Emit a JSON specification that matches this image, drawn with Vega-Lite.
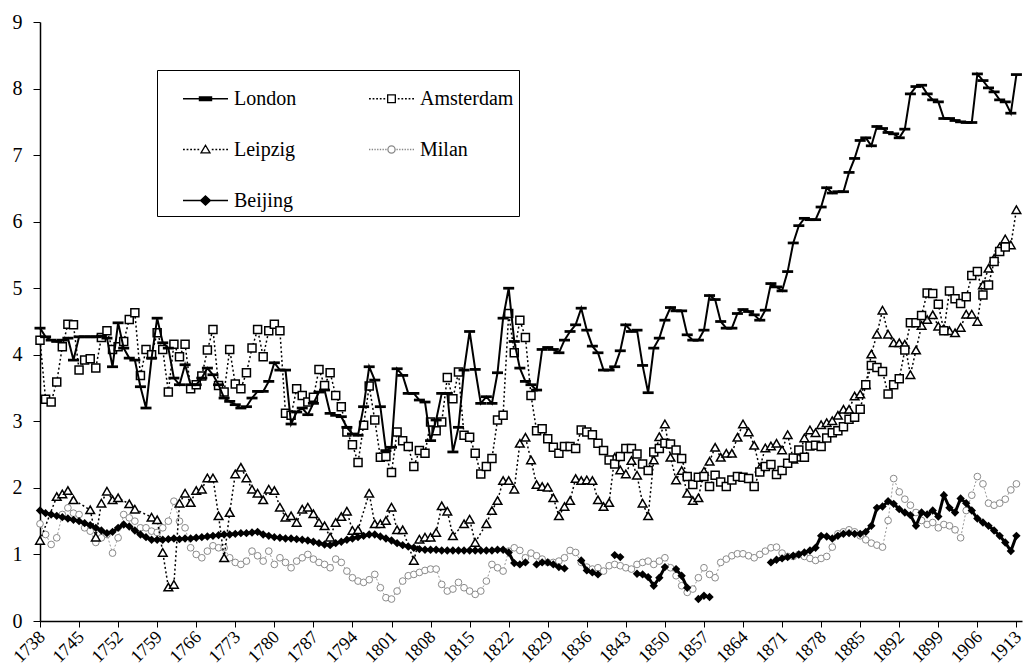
{
"$schema":"https://vega.github.io/schema/vega-lite/v6.json",
"width":982,"height":599,
"autosize":{"type":"none"},
"padding":{"left":40,"top":22,"right":4,"bottom":50},
"background":"white",
"config":{"view":{"stroke":null},"font":"Liberation Serif"},
"datasets":{
"london":[{"year":1738,"v":4.40},{"year":1739,"v":4.27},{"year":1740,"v":4.22},{"year":1741,"v":4.20},{"year":1742,"v":4.22},{"year":1743,"v":4.25},{"year":1744,"v":3.92},{"year":1745,"v":4.27},{"year":1746,"v":4.27},{"year":1747,"v":4.27},{"year":1748,"v":4.27},{"year":1749,"v":4.28},{"year":1750,"v":4.25},{"year":1751,"v":3.82},{"year":1752,"v":4.48},{"year":1753,"v":4.10},{"year":1754,"v":3.95},{"year":1755,"v":3.92},{"year":1756,"v":3.52},{"year":1757,"v":3.20},{"year":1758,"v":3.95},{"year":1759,"v":4.55},{"year":1760,"v":4.18},{"year":1761,"v":4.10},{"year":1762,"v":3.65},{"year":1763,"v":3.55},{"year":1764,"v":3.85},{"year":1765,"v":3.55},{"year":1766,"v":3.55},{"year":1767,"v":3.65},{"year":1768,"v":3.80},{"year":1769,"v":3.70},{"year":1770,"v":3.55},{"year":1771,"v":3.35},{"year":1772,"v":3.30},{"year":1773,"v":3.25},{"year":1774,"v":3.20},{"year":1775,"v":3.22},{"year":1776,"v":3.35},{"year":1777,"v":3.45},{"year":1778,"v":3.45},{"year":1779,"v":3.60},{"year":1780,"v":3.88},{"year":1781,"v":3.77},{"year":1782,"v":3.77},{"year":1783,"v":2.96},{"year":1784,"v":3.14},{"year":1785,"v":3.20},{"year":1786,"v":3.10},{"year":1787,"v":3.27},{"year":1788,"v":3.44},{"year":1789,"v":3.47},{"year":1790,"v":3.12},{"year":1791,"v":3.09},{"year":1792,"v":3.07},{"year":1793,"v":2.91},{"year":1794,"v":2.81},{"year":1795,"v":2.79},{"year":1796,"v":3.22},{"year":1797,"v":3.82},{"year":1798,"v":3.62},{"year":1799,"v":3.22},{"year":1800,"v":2.56},{"year":1801,"v":2.61},{"year":1802,"v":3.79},{"year":1803,"v":3.69},{"year":1804,"v":3.42},{"year":1805,"v":3.42},{"year":1806,"v":3.32},{"year":1807,"v":3.29},{"year":1808,"v":2.71},{"year":1809,"v":3.02},{"year":1810,"v":3.42},{"year":1811,"v":3.42},{"year":1812,"v":2.54},{"year":1813,"v":2.91},{"year":1814,"v":3.77},{"year":1815,"v":4.35},{"year":1816,"v":3.78},{"year":1817,"v":3.27},{"year":1818,"v":3.37},{"year":1819,"v":3.27},{"year":1820,"v":3.73},{"year":1821,"v":4.55},{"year":1822,"v":5.00},{"year":1823,"v":4.20},{"year":1824,"v":3.80},{"year":1825,"v":3.60},{"year":1826,"v":3.55},{"year":1827,"v":3.47},{"year":1828,"v":4.08},{"year":1829,"v":4.11},{"year":1830,"v":4.08},{"year":1831,"v":4.03},{"year":1832,"v":4.22},{"year":1833,"v":4.35},{"year":1834,"v":4.45},{"year":1835,"v":4.70},{"year":1836,"v":4.37},{"year":1837,"v":4.13},{"year":1838,"v":4.03},{"year":1839,"v":3.77},{"year":1840,"v":3.77},{"year":1841,"v":3.82},{"year":1842,"v":4.06},{"year":1843,"v":4.45},{"year":1844,"v":4.35},{"year":1845,"v":4.37},{"year":1846,"v":3.84},{"year":1847,"v":3.43},{"year":1848,"v":4.10},{"year":1849,"v":4.25},{"year":1850,"v":4.52},{"year":1851,"v":4.71},{"year":1852,"v":4.66},{"year":1853,"v":4.66},{"year":1854,"v":4.30},{"year":1855,"v":4.22},{"year":1856,"v":4.22},{"year":1857,"v":4.37},{"year":1858,"v":4.89},{"year":1859,"v":4.83},{"year":1860,"v":4.50},{"year":1861,"v":4.40},{"year":1862,"v":4.40},{"year":1863,"v":4.62},{"year":1864,"v":4.68},{"year":1865,"v":4.65},{"year":1866,"v":4.60},{"year":1867,"v":4.52},{"year":1868,"v":4.67},{"year":1869,"v":5.07},{"year":1870,"v":5.02},{"year":1871,"v":4.96},{"year":1872,"v":5.25},{"year":1873,"v":5.68},{"year":1874,"v":5.94},{"year":1875,"v":6.05},{"year":1876,"v":6.03},{"year":1877,"v":6.03},{"year":1878,"v":6.22},{"year":1879,"v":6.51},{"year":1880,"v":6.43},{"year":1881,"v":6.45},{"year":1882,"v":6.45},{"year":1883,"v":6.74},{"year":1884,"v":6.95},{"year":1885,"v":7.22},{"year":1886,"v":7.26},{"year":1887,"v":7.14},{"year":1888,"v":7.43},{"year":1889,"v":7.40},{"year":1890,"v":7.34},{"year":1891,"v":7.32},{"year":1892,"v":7.26},{"year":1893,"v":7.39},{"year":1894,"v":7.92},{"year":1895,"v":8.03},{"year":1896,"v":8.05},{"year":1897,"v":7.92},{"year":1898,"v":7.83},{"year":1899,"v":7.80},{"year":1900,"v":7.55},{"year":1901,"v":7.55},{"year":1902,"v":7.52},{"year":1903,"v":7.50},{"year":1904,"v":7.49},{"year":1905,"v":7.49},{"year":1906,"v":8.22},{"year":1907,"v":8.12},{"year":1908,"v":8.01},{"year":1909,"v":7.95},{"year":1910,"v":7.83},{"year":1911,"v":7.80},{"year":1912,"v":7.63},{"year":1913,"v":8.21}],
"amsterdam":[{"year":1738,"v":4.22},{"year":1739,"v":3.33},{"year":1740,"v":3.29},{"year":1741,"v":3.59},{"year":1742,"v":4.12},{"year":1743,"v":4.46},{"year":1744,"v":4.45},{"year":1745,"v":3.77},{"year":1746,"v":3.92},{"year":1747,"v":3.94},{"year":1748,"v":3.80},{"year":1749,"v":4.26},{"year":1750,"v":4.36},{"year":1751,"v":4.08},{"year":1752,"v":4.12},{"year":1753,"v":4.20},{"year":1754,"v":4.53},{"year":1755,"v":4.63},{"year":1756,"v":3.69},{"year":1757,"v":4.08},{"year":1758,"v":4.00},{"year":1759,"v":4.33},{"year":1760,"v":4.08},{"year":1761,"v":3.44},{"year":1762,"v":4.16},{"year":1763,"v":3.97},{"year":1764,"v":4.16},{"year":1765,"v":3.49},{"year":1766,"v":3.55},{"year":1767,"v":3.68},{"year":1768,"v":4.07},{"year":1769,"v":4.38},{"year":1770,"v":3.54},{"year":1771,"v":3.44},{"year":1772,"v":4.08},{"year":1773,"v":3.56},{"year":1774,"v":3.49},{"year":1775,"v":3.73},{"year":1776,"v":4.10},{"year":1777,"v":4.38},{"year":1778,"v":3.97},{"year":1779,"v":4.36},{"year":1780,"v":4.46},{"year":1781,"v":4.36},{"year":1782,"v":3.12},{"year":1783,"v":3.09},{"year":1784,"v":3.49},{"year":1785,"v":3.39},{"year":1786,"v":3.29},{"year":1787,"v":3.36},{"year":1788,"v":3.78},{"year":1789,"v":3.54},{"year":1790,"v":3.73},{"year":1791,"v":3.39},{"year":1792,"v":3.22},{"year":1793,"v":2.84},{"year":1794,"v":2.65},{"year":1795,"v":2.38},{"year":1796,"v":2.94},{"year":1797,"v":3.53},{"year":1798,"v":3.02},{"year":1799,"v":2.46},{"year":1800,"v":2.47},{"year":1801,"v":2.23},{"year":1802,"v":2.84},{"year":1803,"v":2.71},{"year":1804,"v":2.62},{"year":1805,"v":2.32},{"year":1806,"v":2.56},{"year":1807,"v":2.52},{"year":1808,"v":2.99},{"year":1809,"v":2.86},{"year":1810,"v":2.99},{"year":1811,"v":3.66},{"year":1812,"v":3.34},{"year":1813,"v":3.74},{"year":1814,"v":2.79},{"year":1815,"v":2.76},{"year":1816,"v":2.52},{"year":1817,"v":2.21},{"year":1818,"v":2.32},{"year":1819,"v":2.44},{"year":1820,"v":3.02},{"year":1821,"v":3.09},{"year":1822,"v":4.62},{"year":1823,"v":4.03},{"year":1824,"v":4.52},{"year":1825,"v":4.26},{"year":1826,"v":3.39},{"year":1827,"v":2.86},{"year":1828,"v":2.89},{"year":1829,"v":2.74},{"year":1830,"v":2.61},{"year":1831,"v":2.52},{"year":1832,"v":2.62},{"year":1833,"v":2.62},{"year":1834,"v":2.59},{"year":1835,"v":2.87},{"year":1836,"v":2.84},{"year":1837,"v":2.80},{"year":1838,"v":2.67},{"year":1839,"v":2.56},{"year":1840,"v":2.42},{"year":1841,"v":2.36},{"year":1842,"v":2.47},{"year":1843,"v":2.59},{"year":1844,"v":2.59},{"year":1845,"v":2.51},{"year":1846,"v":2.36},{"year":1847,"v":2.26},{"year":1848,"v":2.54},{"year":1849,"v":2.59},{"year":1850,"v":2.67},{"year":1851,"v":2.66},{"year":1852,"v":2.57},{"year":1853,"v":2.44},{"year":1854,"v":2.17},{"year":1855,"v":2.05},{"year":1856,"v":2.16},{"year":1857,"v":2.17},{"year":1858,"v":2.02},{"year":1859,"v":2.19},{"year":1860,"v":2.09},{"year":1861,"v":2.02},{"year":1862,"v":2.12},{"year":1863,"v":2.17},{"year":1864,"v":2.16},{"year":1865,"v":2.14},{"year":1866,"v":2.02},{"year":1867,"v":2.24},{"year":1868,"v":2.32},{"year":1869,"v":2.35},{"year":1870,"v":2.20},{"year":1871,"v":2.26},{"year":1872,"v":2.37},{"year":1873,"v":2.45},{"year":1874,"v":2.57},{"year":1875,"v":2.46},{"year":1876,"v":2.63},{"year":1877,"v":2.64},{"year":1878,"v":2.62},{"year":1879,"v":2.75},{"year":1880,"v":2.83},{"year":1881,"v":2.86},{"year":1882,"v":2.92},{"year":1883,"v":3.03},{"year":1884,"v":3.06},{"year":1885,"v":3.18},{"year":1886,"v":3.55},{"year":1887,"v":3.84},{"year":1888,"v":3.81},{"year":1889,"v":3.75},{"year":1890,"v":3.41},{"year":1891,"v":3.55},{"year":1892,"v":3.64},{"year":1893,"v":4.07},{"year":1894,"v":4.48},{"year":1895,"v":4.48},{"year":1896,"v":4.59},{"year":1897,"v":4.93},{"year":1898,"v":4.92},{"year":1899,"v":4.76},{"year":1900,"v":4.36},{"year":1901,"v":4.96},{"year":1902,"v":4.84},{"year":1903,"v":4.77},{"year":1904,"v":4.87},{"year":1905,"v":5.19},{"year":1906,"v":5.25},{"year":1907,"v":4.90},{"year":1908,"v":5.05},{"year":1909,"v":5.40},{"year":1910,"v":5.55},{"year":1911,"v":5.62}],
"leipzig":[{"year":1738,"v":1.21},{"year":1741,"v":1.87},{"year":1742,"v":1.91},{"year":1743,"v":1.96},{"year":1744,"v":1.82},{"year":1747,"v":1.67},{"year":1748,"v":1.26},{"year":1749,"v":1.77},{"year":1750,"v":1.95},{"year":1751,"v":1.82},{"year":1752,"v":1.85},{"year":1754,"v":1.76},{"year":1755,"v":1.68},{"year":1758,"v":1.56},{"year":1759,"v":1.52},{"year":1760,"v":1.03},{"year":1761,"v":0.51},{"year":1762,"v":0.55},{"year":1763,"v":1.77},{"year":1764,"v":1.92},{"year":1765,"v":1.78},{"year":1766,"v":1.96},{"year":1767,"v":1.98},{"year":1768,"v":2.15},{"year":1769,"v":2.15},{"year":1770,"v":1.58},{"year":1771,"v":0.95},{"year":1772,"v":1.63},{"year":1773,"v":2.21},{"year":1774,"v":2.31},{"year":1775,"v":2.15},{"year":1776,"v":1.98},{"year":1777,"v":1.92},{"year":1778,"v":1.82},{"year":1779,"v":1.98},{"year":1780,"v":1.96},{"year":1781,"v":1.71},{"year":1782,"v":1.56},{"year":1783,"v":1.58},{"year":1784,"v":1.48},{"year":1785,"v":1.68},{"year":1786,"v":1.71},{"year":1787,"v":1.61},{"year":1788,"v":1.48},{"year":1789,"v":1.43},{"year":1790,"v":1.26},{"year":1791,"v":1.48},{"year":1792,"v":1.57},{"year":1793,"v":1.65},{"year":1794,"v":1.36},{"year":1795,"v":1.37},{"year":1797,"v":1.92},{"year":1798,"v":1.46},{"year":1799,"v":1.46},{"year":1800,"v":1.51},{"year":1801,"v":1.71},{"year":1802,"v":1.37},{"year":1803,"v":1.37},{"year":1805,"v":0.91},{"year":1806,"v":1.23},{"year":1807,"v":1.26},{"year":1808,"v":1.26},{"year":1809,"v":1.33},{"year":1810,"v":1.73},{"year":1811,"v":1.65},{"year":1812,"v":1.28},{"year":1814,"v":1.46},{"year":1815,"v":1.53},{"year":1816,"v":1.18},{"year":1818,"v":1.46},{"year":1819,"v":1.66},{"year":1820,"v":1.81},{"year":1821,"v":2.11},{"year":1822,"v":2.11},{"year":1823,"v":1.98},{"year":1824,"v":2.67},{"year":1825,"v":2.76},{"year":1826,"v":2.42},{"year":1827,"v":2.05},{"year":1828,"v":2.02},{"year":1829,"v":2.01},{"year":1830,"v":1.85},{"year":1831,"v":1.58},{"year":1832,"v":1.72},{"year":1833,"v":1.81},{"year":1834,"v":2.14},{"year":1835,"v":2.11},{"year":1836,"v":2.12},{"year":1837,"v":2.11},{"year":1838,"v":1.82},{"year":1839,"v":1.72},{"year":1840,"v":1.78},{"year":1841,"v":2.46},{"year":1842,"v":2.27},{"year":1843,"v":2.21},{"year":1844,"v":2.41},{"year":1845,"v":2.19},{"year":1846,"v":1.77},{"year":1847,"v":1.58},{"year":1848,"v":2.42},{"year":1849,"v":2.77},{"year":1850,"v":2.96},{"year":1851,"v":2.46},{"year":1852,"v":2.12},{"year":1853,"v":2.26},{"year":1854,"v":1.92},{"year":1855,"v":1.81},{"year":1856,"v":1.85},{"year":1857,"v":2.25},{"year":1858,"v":2.40},{"year":1859,"v":2.61},{"year":1860,"v":2.46},{"year":1861,"v":2.52},{"year":1862,"v":2.52},{"year":1863,"v":2.76},{"year":1864,"v":2.96},{"year":1865,"v":2.84},{"year":1866,"v":2.64},{"year":1867,"v":2.30},{"year":1868,"v":2.60},{"year":1869,"v":2.63},{"year":1870,"v":2.67},{"year":1871,"v":2.57},{"year":1872,"v":2.80},{"year":1873,"v":2.43},{"year":1874,"v":2.46},{"year":1875,"v":2.75},{"year":1876,"v":2.87},{"year":1877,"v":2.83},{"year":1878,"v":2.95},{"year":1879,"v":2.98},{"year":1880,"v":3.01},{"year":1881,"v":3.09},{"year":1882,"v":3.18},{"year":1883,"v":3.18},{"year":1884,"v":3.38},{"year":1885,"v":3.41},{"year":1886,"v":3.55},{"year":1887,"v":4.01},{"year":1888,"v":4.31},{"year":1889,"v":4.67},{"year":1890,"v":4.31},{"year":1891,"v":4.18},{"year":1892,"v":4.18},{"year":1893,"v":4.16},{"year":1894,"v":3.70},{"year":1895,"v":4.07},{"year":1896,"v":4.44},{"year":1897,"v":4.53},{"year":1898,"v":4.60},{"year":1899,"v":4.43},{"year":1900,"v":4.39},{"year":1901,"v":4.36},{"year":1902,"v":4.33},{"year":1903,"v":4.41},{"year":1904,"v":4.61},{"year":1905,"v":4.61},{"year":1906,"v":4.50},{"year":1907,"v":5.05},{"year":1908,"v":5.30},{"year":1909,"v":5.45},{"year":1910,"v":5.62},{"year":1911,"v":5.74},{"year":1912,"v":5.65},{"year":1913,"v":6.18}],
"milan":[{"year":1738,"v":1.46},{"year":1739,"v":1.30},{"year":1740,"v":1.15},{"year":1741,"v":1.25},{"year":1742,"v":1.60},{"year":1743,"v":1.70},{"year":1744,"v":1.62},{"year":1745,"v":1.60},{"year":1746,"v":1.40},{"year":1747,"v":1.35},{"year":1748,"v":1.18},{"year":1749,"v":1.25},{"year":1750,"v":1.30},{"year":1751,"v":1.02},{"year":1752,"v":1.25},{"year":1753,"v":1.60},{"year":1754,"v":1.55},{"year":1755,"v":1.50},{"year":1756,"v":1.40},{"year":1757,"v":1.40},{"year":1758,"v":1.35},{"year":1759,"v":1.33},{"year":1760,"v":1.40},{"year":1761,"v":1.50},{"year":1762,"v":1.80},{"year":1763,"v":1.50},{"year":1764,"v":1.40},{"year":1765,"v":1.10},{"year":1766,"v":1.00},{"year":1767,"v":0.95},{"year":1768,"v":1.05},{"year":1769,"v":1.13},{"year":1770,"v":1.10},{"year":1771,"v":1.10},{"year":1772,"v":0.95},{"year":1773,"v":0.88},{"year":1774,"v":0.85},{"year":1775,"v":0.90},{"year":1776,"v":1.05},{"year":1777,"v":0.98},{"year":1778,"v":0.90},{"year":1779,"v":1.05},{"year":1780,"v":0.85},{"year":1781,"v":0.95},{"year":1782,"v":0.88},{"year":1783,"v":0.80},{"year":1784,"v":0.90},{"year":1785,"v":0.95},{"year":1786,"v":1.00},{"year":1787,"v":0.93},{"year":1788,"v":0.88},{"year":1789,"v":0.85},{"year":1790,"v":0.80},{"year":1791,"v":0.93},{"year":1792,"v":0.88},{"year":1793,"v":0.75},{"year":1794,"v":0.65},{"year":1795,"v":0.60},{"year":1796,"v":0.58},{"year":1797,"v":0.62},{"year":1798,"v":0.70},{"year":1799,"v":0.50},{"year":1800,"v":0.35},{"year":1801,"v":0.33},{"year":1802,"v":0.45},{"year":1803,"v":0.60},{"year":1804,"v":0.68},{"year":1805,"v":0.70},{"year":1806,"v":0.73},{"year":1807,"v":0.76},{"year":1808,"v":0.78},{"year":1809,"v":0.78},{"year":1810,"v":0.55},{"year":1811,"v":0.45},{"year":1812,"v":0.48},{"year":1813,"v":0.58},{"year":1814,"v":0.50},{"year":1815,"v":0.45},{"year":1816,"v":0.40},{"year":1817,"v":0.45},{"year":1818,"v":0.60},{"year":1819,"v":0.85},{"year":1820,"v":0.80},{"year":1821,"v":0.75},{"year":1822,"v":1.05},{"year":1823,"v":1.10},{"year":1824,"v":1.06},{"year":1825,"v":0.95},{"year":1826,"v":1.02},{"year":1827,"v":0.98},{"year":1828,"v":0.93},{"year":1829,"v":0.88},{"year":1830,"v":0.88},{"year":1831,"v":0.90},{"year":1832,"v":0.95},{"year":1833,"v":1.06},{"year":1834,"v":1.03},{"year":1835,"v":0.88},{"year":1836,"v":0.81},{"year":1837,"v":0.78},{"year":1838,"v":0.80},{"year":1839,"v":0.75},{"year":1840,"v":0.83},{"year":1841,"v":0.85},{"year":1842,"v":0.83},{"year":1843,"v":0.80},{"year":1844,"v":0.78},{"year":1845,"v":0.85},{"year":1846,"v":0.88},{"year":1847,"v":0.90},{"year":1848,"v":0.85},{"year":1849,"v":0.90},{"year":1850,"v":0.95},{"year":1851,"v":0.80},{"year":1852,"v":0.68},{"year":1853,"v":0.53},{"year":1854,"v":0.43},{"year":1855,"v":0.48},{"year":1856,"v":0.65},{"year":1857,"v":0.80},{"year":1858,"v":0.70},{"year":1859,"v":0.65},{"year":1860,"v":0.88},{"year":1861,"v":0.93},{"year":1862,"v":0.98},{"year":1863,"v":1.01},{"year":1864,"v":1.01},{"year":1865,"v":0.98},{"year":1866,"v":0.95},{"year":1867,"v":1.00},{"year":1868,"v":1.05},{"year":1869,"v":1.10},{"year":1870,"v":1.11},{"year":1871,"v":1.02},{"year":1872,"v":0.97},{"year":1873,"v":0.97},{"year":1874,"v":1.00},{"year":1875,"v":0.97},{"year":1876,"v":0.94},{"year":1877,"v":0.91},{"year":1878,"v":0.94},{"year":1879,"v":0.97},{"year":1880,"v":1.11},{"year":1881,"v":1.31},{"year":1882,"v":1.34},{"year":1883,"v":1.37},{"year":1884,"v":1.34},{"year":1885,"v":1.28},{"year":1886,"v":1.22},{"year":1887,"v":1.17},{"year":1888,"v":1.14},{"year":1889,"v":1.11},{"year":1890,"v":1.51},{"year":1891,"v":2.14},{"year":1892,"v":1.94},{"year":1893,"v":1.83},{"year":1894,"v":1.74},{"year":1895,"v":1.63},{"year":1896,"v":1.51},{"year":1897,"v":1.45},{"year":1898,"v":1.48},{"year":1899,"v":1.40},{"year":1900,"v":1.45},{"year":1901,"v":1.43},{"year":1902,"v":1.37},{"year":1903,"v":1.25},{"year":1904,"v":1.66},{"year":1905,"v":1.89},{"year":1906,"v":2.17},{"year":1907,"v":2.06},{"year":1908,"v":1.77},{"year":1909,"v":1.74},{"year":1910,"v":1.77},{"year":1911,"v":1.83},{"year":1912,"v":1.97},{"year":1913,"v":2.06}],
"beijing":[{"year":1738,"v":1.66},{"year":1739,"v":1.62},{"year":1740,"v":1.60},{"year":1741,"v":1.58},{"year":1742,"v":1.56},{"year":1743,"v":1.54},{"year":1744,"v":1.52},{"year":1745,"v":1.50},{"year":1746,"v":1.47},{"year":1747,"v":1.44},{"year":1748,"v":1.40},{"year":1749,"v":1.36},{"year":1750,"v":1.32},{"year":1751,"v":1.34},{"year":1752,"v":1.40},{"year":1753,"v":1.45},{"year":1754,"v":1.42},{"year":1755,"v":1.36},{"year":1756,"v":1.30},{"year":1757,"v":1.26},{"year":1758,"v":1.22},{"year":1759,"v":1.22},{"year":1760,"v":1.22},{"year":1761,"v":1.23},{"year":1762,"v":1.24},{"year":1763,"v":1.23},{"year":1764,"v":1.24},{"year":1765,"v":1.24},{"year":1766,"v":1.25},{"year":1767,"v":1.26},{"year":1768,"v":1.27},{"year":1769,"v":1.28},{"year":1770,"v":1.29},{"year":1771,"v":1.30},{"year":1772,"v":1.30},{"year":1773,"v":1.31},{"year":1774,"v":1.32},{"year":1775,"v":1.32},{"year":1776,"v":1.33},{"year":1777,"v":1.34},{"year":1778,"v":1.30},{"year":1779,"v":1.28},{"year":1780,"v":1.26},{"year":1781,"v":1.25},{"year":1782,"v":1.24},{"year":1783,"v":1.24},{"year":1784,"v":1.23},{"year":1785,"v":1.22},{"year":1786,"v":1.21},{"year":1787,"v":1.19},{"year":1788,"v":1.17},{"year":1789,"v":1.15},{"year":1790,"v":1.14},{"year":1791,"v":1.17},{"year":1792,"v":1.19},{"year":1793,"v":1.22},{"year":1794,"v":1.24},{"year":1795,"v":1.26},{"year":1796,"v":1.28},{"year":1797,"v":1.30},{"year":1798,"v":1.30},{"year":1799,"v":1.27},{"year":1800,"v":1.24},{"year":1801,"v":1.21},{"year":1802,"v":1.17},{"year":1803,"v":1.14},{"year":1804,"v":1.12},{"year":1805,"v":1.10},{"year":1806,"v":1.08},{"year":1807,"v":1.07},{"year":1808,"v":1.07},{"year":1809,"v":1.07},{"year":1810,"v":1.06},{"year":1811,"v":1.06},{"year":1812,"v":1.06},{"year":1813,"v":1.06},{"year":1814,"v":1.06},{"year":1815,"v":1.06},{"year":1816,"v":1.06},{"year":1817,"v":1.06},{"year":1818,"v":1.06},{"year":1819,"v":1.06},{"year":1820,"v":1.07},{"year":1821,"v":1.07},{"year":1822,"v":1.03},{"year":1823,"v":0.87},{"year":1824,"v":0.85},{"year":1825,"v":0.88},{"year":1826,"v":null},{"year":1827,"v":0.85},{"year":1828,"v":0.88},{"year":1829,"v":0.88},{"year":1830,"v":0.85},{"year":1831,"v":0.81},{"year":1832,"v":0.79},{"year":1833,"v":null},{"year":1835,"v":0.91},{"year":1836,"v":0.76},{"year":1837,"v":0.73},{"year":1838,"v":0.70},{"year":1839,"v":null},{"year":1841,"v":0.99},{"year":1842,"v":0.96},{"year":1843,"v":null},{"year":1845,"v":0.71},{"year":1846,"v":0.70},{"year":1847,"v":0.66},{"year":1848,"v":0.53},{"year":1849,"v":0.65},{"year":1850,"v":0.81},{"year":1851,"v":null},{"year":1852,"v":0.78},{"year":1853,"v":0.68},{"year":1854,"v":0.50},{"year":1855,"v":null},{"year":1856,"v":0.33},{"year":1857,"v":0.38},{"year":1858,"v":0.36},{"year":1859,"v":null},{"year":1869,"v":0.88},{"year":1870,"v":0.92},{"year":1871,"v":0.94},{"year":1872,"v":0.96},{"year":1873,"v":0.98},{"year":1874,"v":1.00},{"year":1875,"v":1.03},{"year":1876,"v":1.06},{"year":1877,"v":1.10},{"year":1878,"v":1.28},{"year":1879,"v":1.27},{"year":1880,"v":1.24},{"year":1881,"v":1.28},{"year":1882,"v":1.31},{"year":1883,"v":1.32},{"year":1884,"v":1.31},{"year":1885,"v":1.31},{"year":1886,"v":1.34},{"year":1887,"v":1.43},{"year":1888,"v":1.70},{"year":1889,"v":1.72},{"year":1890,"v":1.80},{"year":1891,"v":1.76},{"year":1892,"v":1.68},{"year":1893,"v":1.63},{"year":1894,"v":1.59},{"year":1895,"v":1.43},{"year":1896,"v":1.63},{"year":1897,"v":1.60},{"year":1898,"v":1.66},{"year":1899,"v":1.57},{"year":1900,"v":1.89},{"year":1901,"v":1.70},{"year":1902,"v":1.63},{"year":1903,"v":1.84},{"year":1904,"v":1.77},{"year":1905,"v":1.66},{"year":1906,"v":1.54},{"year":1907,"v":1.48},{"year":1908,"v":1.43},{"year":1909,"v":1.36},{"year":1910,"v":1.28},{"year":1911,"v":1.18},{"year":1912,"v":1.05},{"year":1913,"v":1.28}],
"legend":[{"city":"London"},{"city":"Amsterdam"},{"city":"Leipzig"},{"city":"Milan"},{"city":"Beijing"}]
},
"encoding":{
"x":{"field":"year","type":"quantitative","scale":{"domain":[1738,1914],"nice":false,"zero":false},
"axis":{"title":null,"grid":false,"values":[1738,1745,1752,1759,1766,1773,1780,1787,1794,1801,1808,1815,1822,1829,1836,1843,1850,1857,1864,1871,1878,1885,1892,1899,1906,1913],"format":"d","labelAngle":-45,"labelAlign":"right","labelBaseline":"middle","labelFont":"Liberation Serif","labelFontSize":18,"labelColor":"black","labelPadding":7,"labelOffset":2,"labelOverlap":false,"labelFlush":false,"tickSize":6,"tickColor":"black","domainColor":"black","domainWidth":1.5}},
"y":{"field":"v","type":"quantitative","scale":{"domain":[0,9],"nice":false},
"axis":{"title":null,"grid":false,"values":[0,1,2,3,4,5,6,7,8,9],"labelFont":"Liberation Serif","labelFontSize":20,"labelColor":"black","labelPadding":11,"tickSize":7,"tickColor":"black","domainColor":"black","domainWidth":1.5}}
},
"layer":[
{"data":{"name":"milan"},"mark":{"type":"line","color":"#999999","strokeWidth":1,"strokeDash":[2,2]}},
{"data":{"name":"milan"},"mark":{"type":"point","shape":"circle","size":45,"filled":true,"fill":"white","stroke":"#8a8a8a","strokeWidth":1,"opacity":1}},
{"data":{"name":"beijing"},"mark":{"type":"line","color":"black","strokeWidth":3}},
{"data":{"name":"beijing"},"mark":{"type":"point","shape":"diamond","size":70,"filled":true,"color":"black","opacity":1}},
{"data":{"name":"leipzig"},"mark":{"type":"line","color":"black","strokeWidth":1.5,"strokeDash":[2,2.5]}},
{"data":{"name":"leipzig"},"mark":{"type":"point","shape":"triangle-up","size":75,"filled":true,"fill":"white","stroke":"black","strokeWidth":1.5,"opacity":1}},
{"data":{"name":"amsterdam"},"mark":{"type":"line","color":"black","strokeWidth":1.5,"strokeDash":[2,2.5]}},
{"data":{"name":"amsterdam"},"mark":{"type":"point","shape":"square","size":64,"filled":true,"fill":"white","stroke":"black","strokeWidth":1.5,"opacity":1}},
{"data":{"name":"london"},"mark":{"type":"line","color":"black","strokeWidth":2}},
{"data":{"name":"london"},"mark":{"type":"point","shape":"M-1,-0.25H1V0.25H-1Z","size":121,"filled":true,"color":"black","opacity":1}},
{"data":{"name":"legend"},"mark":{"type":"point","size":0,"opacity":1,"strokeWidth":1.3},
"encoding":{"x":{"value":0},"y":{"value":0},
"shape":{"field":"city","type":"nominal","scale":{"domain":["London","Leipzig","Beijing","Amsterdam","Milan"],"range":["M-1,0H1M-0.27,-0.08H0.27V0.08H-0.27Z","M-1,0H-0.92M-0.84,0H-0.76M-0.68,0H-0.6M-0.52,0H-0.44M-0.36,0H-0.28M0.28,0H0.36M0.44,0H0.52M0.6,0H0.68M0.76,0H0.84M0.92,0H1M0,-0.19L0.2,0.15H-0.2Z","M-1,0H1M0,-0.2L0.22,0L0,0.2L-0.22,0Z","M-1,0H-0.92M-0.84,0H-0.76M-0.68,0H-0.6M-0.52,0H-0.44M-0.36,0H-0.28M0.28,0H0.36M0.44,0H0.52M0.6,0H0.68M0.76,0H0.84M0.92,0H1M-0.17,-0.17H0.17V0.17H-0.17Z","M-1,0H-0.94M-0.88,0H-0.82M-0.76,0H-0.7M-0.64,0H-0.58M-0.52,0H-0.46M-0.4,0H-0.34M-0.28,0H-0.22M0.22,0H0.28M0.34,0H0.4M0.46,0H0.52M0.58,0H0.64M0.7,0H0.76M0.82,0H0.88M0.94,0H1M-0.16,0A0.16,0.16,0,1,1,0.16,0A0.16,0.16,0,1,1,-0.16,0Z"]},
"legend":{"title":null,"orient":"none","legendX":117,"legendY":48,"columns":2,"symbolSize":2025,"symbolStrokeWidth":1.3,"symbolOpacity":1,"symbolOffset":20,"labelFont":"Liberation Serif","labelFontSize":20,"labelColor":"black","labelOffset":5,"columnPadding":51,"rowPadding":17,"padding":5,"strokeColor":"black","fillColor":"white"}},
"fill":{"field":"city","type":"nominal","scale":{"domain":["London","Leipzig","Beijing","Amsterdam","Milan"],"range":["black","white","black","white","white"]}},
"stroke":{"field":"city","type":"nominal","scale":{"domain":["London","Leipzig","Beijing","Amsterdam","Milan"],"range":["black","black","black","black","#888888"]}}
}}
]
}
